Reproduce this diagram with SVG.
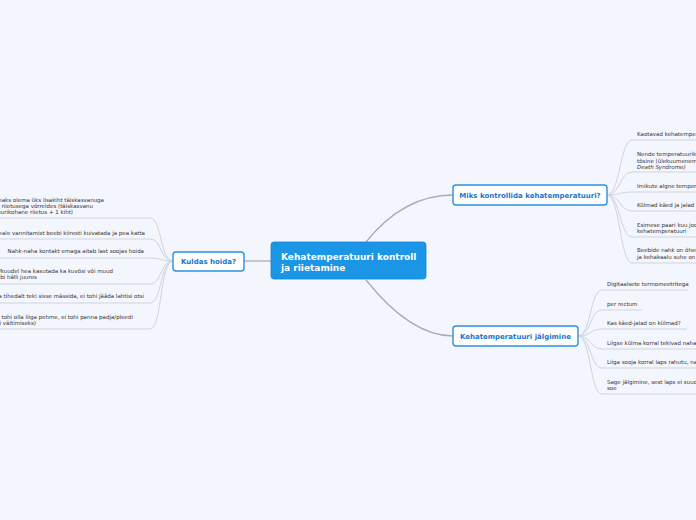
<svg xmlns="http://www.w3.org/2000/svg" width="696" height="520" viewBox="0 0 696 520">
<style>
.bg{fill:#f4f6fd}
.main{fill:#1b95e6;stroke:#1584d4;stroke-width:0.8}
.mt{font-family:"DejaVu Sans",Verdana,sans-serif;font-size:9px;font-weight:bold;fill:#ffffff}
.sub{fill:#ffffff;stroke:#2b8fe2;stroke-width:1.4}
.st{font-family:"DejaVu Sans",Verdana,sans-serif;font-size:7px;font-weight:bold;fill:#1c74cc;text-anchor:middle}
.lt{font-family:"DejaVu Sans",Verdana,sans-serif;font-size:5.5px;fill:#333333}
.lr{text-anchor:end}
.it{font-style:italic}
.mc{fill:none;stroke:#a8adb5;stroke-width:1.3}
.lc{fill:none;stroke:#cfd3db;stroke-width:1}
</style>
<rect class="bg" x="0" y="0" width="696" height="520"/>
<g id="connectors">
<path class="mc" d="M244,261 L271,261"/>
<path class="mc" d="M366,242 C390,212 420,195 453,195"/>
<path class="mc" d="M366,280 C390,310 420,336 453,336"/>
<path class="lc" d="M173,261 C160,261 162,218 150,218 L0,218"/>
<path class="lc" d="M173,261 C160,261 162,239 150,239 L0,239"/>
<path class="lc" d="M173,261 C160,261 162,258 150,258 L0,258"/>
<path class="lc" d="M173,261 C160,261 162,284 150,284 L0,284"/>
<path class="lc" d="M173,261 C160,261 162,303 150,303 L0,303"/>
<path class="lc" d="M173,261 C160,261 162,329 150,329 L0,329"/>
<path class="lc" d="M607,195 C620,195 620,140 632,140 L696,140"/>
<path class="lc" d="M607,195 C620,195 620,172 632,172 L696,172"/>
<path class="lc" d="M607,195 C620,195 620,192 632,192 L696,192"/>
<path class="lc" d="M607,195 C620,195 620,211 632,211 L696,211"/>
<path class="lc" d="M607,195 C620,195 620,237 632,237 L696,237"/>
<path class="lc" d="M607,195 C620,195 620,263 632,263 L696,263"/>
<path class="lc" d="M578,336 C591,336 590,290 602,290 L688,290"/>
<path class="lc" d="M578,336 C591,336 590,310 602,310 L642,310"/>
<path class="lc" d="M578,336 C591,336 590,329 602,329 L687,329"/>
<path class="lc" d="M578,336 C591,336 590,349 602,349 L696,349"/>
<path class="lc" d="M578,336 C591,336 590,368 602,368 L696,368"/>
<path class="lc" d="M578,336 C591,336 590,394 602,394 L696,394"/>
</g>
<g id="root">
<rect class="main" x="271" y="242" width="155" height="37" rx="3"/>
<text class="mt" x="281" y="259.5">Kehatemperatuuri kontroll</text>
<text class="mt" x="281" y="270.5">ja riietamine</text>
</g>
<g id="kuidas">
<rect class="sub" x="173" y="252" width="71" height="19" rx="3"/>
<text class="st" x="208.5" y="264">Kuldas hoida?</text>
</g>
<g id="miks">
<rect class="sub" x="453" y="185" width="154" height="20" rx="3"/>
<text class="st" x="530" y="198">Miks kontrollida kehatemperatuuri?</text>
</g>
<g id="jalgimine">
<rect class="sub" x="453" y="326" width="125" height="20" rx="3"/>
<text class="st" x="515.5" y="338.5">Kehatemperatuuri jälgimine</text>
</g>
<g id="k1"><text class="lt lr" x="104" y="201.5">Beebil peaks olema üks lisakiht täiskasvanuga</text><text class="lt lr" x="93" y="207.5">sarnases olukorras riietusega võrreldes (täiskasvanu</text><text class="lt lr" x="73" y="213.5">olukorra temperatuurikohane riietus + 1 kiht)</text></g>
<g id="k2"><text class="lt lr" x="145" y="234.5">Oluline on peale vannitamist beebi kiiresti kuivatada ja pea katta</text></g>
<g id="k3"><text class="lt lr" x="144" y="253">Nahk-naha kontakt emaga aitab last soojas hoida</text></g>
<g id="k4"><text class="lt lr" x="113" y="273">Esimestel nädalatel/kuudel hea kasutada ka kuvõsi või muud</text><text class="lt lr" x="37" y="279">pehmet kaitset beebi hälli juures</text></g>
<g id="k5"><text class="lt lr" x="144" y="298">Mähkimisel ei tohiks last liiga tihedalt teki sisse mässida, ei tohi jääda lahtisi otsi</text></g>
<g id="k6"><text class="lt lr" x="133" y="318.5">Voodi ei tohi olla liiga pehme, ei tohi panna padja/pleedi</text><text class="lt lr" x="36" y="324.5">(SIDSi vältimiseks)</text></g>
<g id="m1"><text class="lt" x="637" y="136">Kaotavad kehatemperatuuri kiiresti</text></g>
<g id="m2"><text class="lt" x="637" y="156">Nende temperatuurikõikumine võib olla</text><text class="lt" x="637" y="162.5">tõsine (ülekuumenemine - SIDS, Sudden Infant</text><text class="lt it" x="637" y="169">Death Syndrome)</text></g>
<g id="m3"><text class="lt" x="637" y="188">Imikute algne temperatuuriregulatsioon on ebaküps</text></g>
<g id="m4"><text class="lt" x="637" y="207">Külmad käed ja jalad ei tähenda, et lapsel on külm</text></g>
<g id="m5"><text class="lt" x="637" y="227">Esimese paari kuu jooksul ei suuda beebi hoida</text><text class="lt" x="637" y="233">kehatemperatuuri</text></g>
<g id="m6"><text class="lt" x="637" y="252">Beebide nahk on õhem ja pindala</text><text class="lt" x="637" y="258.5">ja kehakaalu suhe on suurem</text></g>
<g id="j1"><text class="lt" x="607" y="286">Digitaalsete termomeetritega</text></g>
<g id="j2"><text class="lt" x="607" y="306">per rectum</text></g>
<g id="j3"><text class="lt" x="607" y="325">Kas käed-jalad on külmad?</text></g>
<g id="j4"><text class="lt" x="607" y="345">Liigse külma korral tekivad nahale marmorjad laigud</text></g>
<g id="j5"><text class="lt" x="607" y="364">Liiga sooja korral laps rahutu, nahk punetab</text></g>
<g id="j6"><text class="lt" x="607" y="384">Sage jälgimine, sest laps ei suuda ise märku anda, kas tal on külm või</text><text class="lt" x="607" y="390">soe</text></g>
</svg>
